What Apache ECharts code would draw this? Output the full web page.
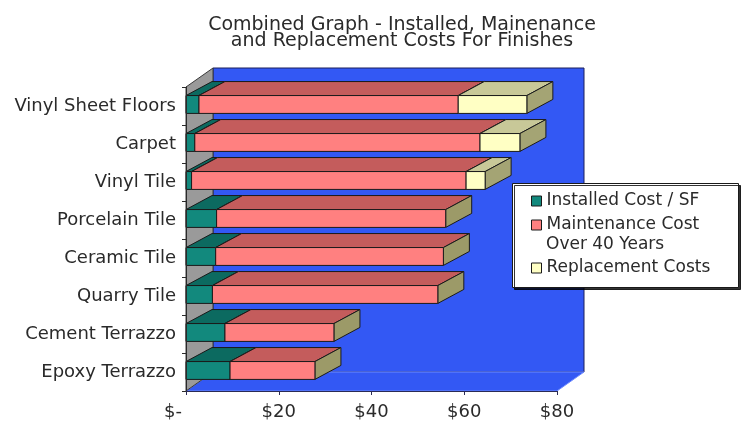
<!DOCTYPE html>
<html>
<head>
<meta charset="utf-8">
<script src="https://cdn.jsdelivr.net/npm/echarts@6/dist/echarts.min.js"></script>
<style>
html,body{margin:0;padding:0;background:#fff;}
#chart{width:744px;height:424px;}
</style>
</head>
<body>
<div id="chart"></div>
<script>
var categories = ['Vinyl Sheet Floors', 'Carpet', 'Vinyl Tile', 'Porcelain Tile', 'Ceramic Tile', 'Quarry Tile', 'Cement Terrazzo', 'Epoxy Terrazzo'];
var installed = [2.8, 1.9, 1.2, 6.6, 6.4, 5.7, 8.4, 9.5];
var maintenance = [55.9, 61.5, 59.2, 49.4, 49.1, 48.6, 23.5, 18.3];
var replacement = [14.8, 8.6, 4.1, 0, 0, 0, 0, 0];
var xTicks = [0, 20, 40, 60, 80];
var seriesNames = ['Installed Cost / SF', 'Maintenance Cost', 'Replacement Costs'];

var FONT = 'DejaVu Sans';
var BDX = 26, BDY = -14;   // bar depth offset
var WDX = 27, WDY = -19;   // wall depth offset

function buildStack(values, base) {
  return values.map(function (v, i) { return [base[i], base[i] + v, i]; });
}
var zeroBase = categories.map(function () { return 0; });
var afterInst = installed.map(function (v) { return v; });
var afterMaint = installed.map(function (v, i) { return v + maintenance[i]; });

function barRenderer(front, top, side) {
  return function (params, api) {
    var s = api.value(0), e = api.value(1), c = api.value(2);
    if (!(e > s)) return { type: 'group', children: [] };
    var p0 = api.coord([s, c]);
    var p1 = api.coord([e, c]);
    var band = api.size([0, 1])[1];
    var h = band * 0.47;
    var yc = p0[1] - band * 0.04;
    var yT = yc - h / 2, yB = yc + h / 2;
    var x0 = p0[0], x1 = p1[0];
    var stroke = '#1a1a1a', lw = 1;
    return {
      type: 'group',
      children: [
        { type: 'polygon', shape: { points: [[x0, yT], [x1, yT], [x1 + BDX, yT + BDY], [x0 + BDX, yT + BDY]] },
          style: { fill: top, stroke: stroke, lineWidth: lw } },
        { type: 'polygon', shape: { points: [[x1, yT], [x1 + BDX, yT + BDY], [x1 + BDX, yB + BDY], [x1, yB]] },
          style: { fill: side, stroke: stroke, lineWidth: lw } },
        { type: 'rect', shape: { x: x0, y: yT, width: x1 - x0, height: yB - yT },
          style: { fill: front, stroke: stroke, lineWidth: lw } }
      ]
    };
  };
}

function wallRenderer(params, api) {
  var cs = params.coordSys;
  var x = cs.x, y = cs.y, w = cs.width, h = cs.height;
  return {
    type: 'group',
    children: [
      { type: 'rect', shape: { x: x + WDX, y: y + WDY, width: w, height: h },
        style: { fill: '#3358f4', stroke: '#1b1f5c', lineWidth: 1 } },
      { type: 'polygon', shape: { points: [[x, y + h], [x + w, y + h], [x + w + WDX, y + h + WDY], [x + WDX, y + h + WDY]] },
        style: { fill: '#3358f4', stroke: '#6f8cff', lineWidth: 1 } },
      { type: 'polygon', shape: { points: [[x, y], [x + WDX, y + WDY], [x + WDX, y + h + WDY], [x, y + h]] },
        style: { fill: '#9a9a9a', stroke: '#3a3a3a', lineWidth: 1 } }
    ]
  };
}

var chart = echarts.init(document.getElementById('chart'), null, { renderer: 'canvas' });

var option = {
  animation: false,
  backgroundColor: '#ffffff',
  textStyle: { fontFamily: FONT },
  title: {
    text: 'Combined Graph - Installed, Mainenance\nand Replacement Costs For Finishes',
    left: 397,
    top: 12,
    textAlign: 'center',
    textStyle: { fontFamily: FONT, fontSize: 19, fontWeight: 'normal', color: '#2a2a2a', lineHeight: 16 }
  },
  grid: { left: 186, right: 187, top: 87, bottom: 33, containLabel: false },
  xAxis: {
    type: 'value', min: 0, max: 80, interval: 20, z: 3,
    splitLine: { show: false },
    axisLine: { show: true, lineStyle: { color: '#2b2b55', width: 1 } },
    axisTick: { show: true, length: 4, lineStyle: { color: '#2b2b55' } },
    axisLabel: {
      margin: 12, color: '#2a2a2a', fontFamily: FONT, fontSize: 18,
      formatter: function (v) { return v === 0 ? '{z|$-}' : '$' + v; },
      rich: { z: { fontFamily: FONT, fontSize: 18, color: '#2a2a2a', padding: [0, 26, 0, 0] } }
    }
  },
  yAxis: {
    type: 'category', data: categories, inverse: true, z: 3,
    axisLine: { show: true, lineStyle: { color: '#2a2a2a', width: 1 } },
    axisTick: { show: true, length: 4, lineStyle: { color: '#2a2a2a' } },
    axisLabel: { margin: 10, color: '#2a2a2a', fontFamily: FONT, fontSize: 18 }
  },
  legend: [
    {
      orient: 'vertical', left: 526, top: 186, padding: 5,
      data: [seriesNames[0], seriesNames[1]],
      icon: 'rect', itemWidth: 10, itemHeight: 10, itemGap: 4,
      itemStyle: { borderColor: '#1a1a1a', borderWidth: 1 },
      textStyle: { fontFamily: FONT, fontSize: 17, color: '#2a2a2a', lineHeight: 20 },
      selectedMode: false, z: 6
    },
    {
      orient: 'vertical', left: 526, top: 253, padding: 5,
      data: [seriesNames[2]],
      icon: 'rect', itemWidth: 10, itemHeight: 10,
      itemStyle: { borderColor: '#1a1a1a', borderWidth: 1 },
      textStyle: { fontFamily: FONT, fontSize: 17, color: '#2a2a2a', lineHeight: 20 },
      selectedMode: false, z: 6
    }
  ],
  graphic: [
    { type: 'rect', left: 512, top: 183, z: 5,
      shape: { width: 226, height: 104 },
      style: { fill: '#ffffff', stroke: '#1a1a1a', lineWidth: 1, shadowColor: 'rgba(0,0,0,0.8)', shadowOffsetX: 2, shadowOffsetY: 2, shadowBlur: 0 } },
    { type: 'text', left: 546, top: 236, z: 6,
      style: { text: 'Over 40 Years', font: '17px "DejaVu Sans"', fill: '#2a2a2a' } }
  ],
  series: [
    { type: 'custom', name: 'walls', z: 1, silent: true, renderItem: wallRenderer,
      data: [[0, 0]], encode: { x: 0, y: 1 } },
    { type: 'custom', name: seriesNames[0], z: 2, itemStyle: { color: '#12897d' },
      renderItem: barRenderer('#12897d', '#0c6a60', '#7c8060'),
      data: buildStack(installed, zeroBase), encode: { x: [0, 1], y: 2 } },
    { type: 'custom', name: seriesNames[1], z: 2, itemStyle: { color: '#ff8080' },
      renderItem: barRenderer('#ff8080', '#c45c5c', '#9c9a68'),
      data: buildStack(maintenance, afterInst), encode: { x: [0, 1], y: 2 } },
    { type: 'custom', name: seriesNames[2], z: 2, itemStyle: { color: '#ffffc4' },
      renderItem: barRenderer('#ffffc4', '#c8c898', '#a4a474'),
      data: buildStack(replacement, afterMaint), encode: { x: [0, 1], y: 2 } }
  ]
};
chart.setOption(option);
</script>
</body>
</html>
